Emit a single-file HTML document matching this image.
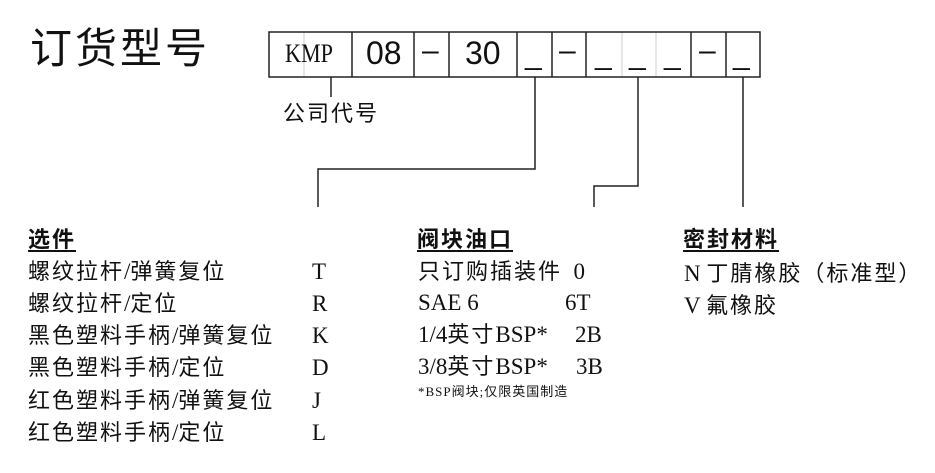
<!DOCTYPE html>
<html><head><meta charset="utf-8"><style>
body{margin:0;width:935px;height:473px;background:#fff;position:relative;overflow:hidden;font-family:"Liberation Serif","Noto Sans CJK SC",serif;color:#111}
.t{position:absolute;white-space:pre;line-height:1}
.c{font-size:22px;letter-spacing:2px}
.l{letter-spacing:0;font-size:23px}
.h{font-weight:bold;text-decoration:underline;text-decoration-thickness:2px;text-underline-offset:3px;font-family:"Liberation Sans","Noto Sans CJK SC",sans-serif}
.s{font-family:"Liberation Sans","Noto Sans CJK SC",sans-serif}
</style></head><body>
<svg width="935" height="473" style="position:absolute;left:0;top:0">
<g stroke="#cfcfcf" stroke-width="1"><line x1="304" y1="32" x2="304" y2="77"/><line x1="622" y1="32" x2="622" y2="77"/><line x1="656" y1="32" x2="656" y2="77"/></g>
<g fill="none" stroke="#222" stroke-width="1.5">
<rect x="269" y="32" width="491" height="45"/>
<line x1="352" y1="32" x2="352" y2="77"/><line x1="414" y1="32" x2="414" y2="77"/><line x1="449" y1="32" x2="449" y2="77"/><line x1="517" y1="32" x2="517" y2="77"/><line x1="552" y1="32" x2="552" y2="77"/><line x1="586" y1="32" x2="586" y2="77"/><line x1="691" y1="32" x2="691" y2="77"/><line x1="726" y1="32" x2="726" y2="77"/>
<line x1="331" y1="77" x2="331" y2="97"/>
<polyline points="535,77 535,169 318,169 318,207"/>
<polyline points="638,77 638,186 594,186 594,207"/>
<line x1="743" y1="77" x2="743" y2="207"/>
</g></svg>
<div class="t s" style="left:30px;top:28px;font-size:42px;letter-spacing:3px">订货型号</div>
<div class="t" style="left:285px;top:41px;font-size:26px;transform:scaleX(0.85);transform-origin:left">KMP</div>
<div class="t s" style="left:366px;top:37px;font-size:32px">08</div>
<div class="t s" style="left:422px;top:36px;font-size:30px">–</div>
<div class="t s" style="left:465px;top:37px;font-size:32px">30</div>
<div class="t s" style="left:525px;top:40px;font-size:30px">_</div>
<div class="t s" style="left:559px;top:36px;font-size:30px">–</div>
<div class="t s" style="left:595px;top:40px;font-size:30px">_</div>
<div class="t s" style="left:629px;top:40px;font-size:30px">_</div>
<div class="t s" style="left:664px;top:40px;font-size:30px">_</div>
<div class="t s" style="left:699px;top:36px;font-size:30px">–</div>
<div class="t s" style="left:733px;top:40px;font-size:30px">_</div>
<div class="t s" style="left:283px;top:103px;font-size:22px;letter-spacing:2px">公司代号</div>

<div class="t c h" style="left:28px;top:229px">选件</div>
<div class="t c" style="left:28px;top:260px">螺纹拉杆<span class="l">/</span>弹簧复位</div><div class="t c l" style="left:312px;top:260px">T</div>
<div class="t c" style="left:28px;top:292px">螺纹拉杆<span class="l">/</span>定位</div><div class="t c l" style="left:312px;top:292px">R</div>
<div class="t c" style="left:28px;top:324px">黑色塑料手柄<span class="l">/</span>弹簧复位</div><div class="t c l" style="left:312px;top:324px">K</div>
<div class="t c" style="left:28px;top:356px">黑色塑料手柄<span class="l">/</span>定位</div><div class="t c l" style="left:312px;top:356px">D</div>
<div class="t c" style="left:28px;top:389px">红色塑料手柄<span class="l">/</span>弹簧复位</div><div class="t c l" style="left:312px;top:389px">J</div>
<div class="t c" style="left:28px;top:421px">红色塑料手柄<span class="l">/</span>定位</div><div class="t c l" style="left:312px;top:421px">L</div>

<div class="t c h" style="left:417px;top:229px">阀块油口</div>
<div class="t c" style="left:418px;top:260px">只订购插装件<span class="l">  0</span></div>
<div class="t c l" style="left:418px;top:291px">SAE 6</div><div class="t c l" style="left:565px;top:291px">6T</div>
<div class="t c" style="left:418px;top:323px"><span class="l">1/4</span>英寸<span class="l">BSP*</span></div><div class="t c l" style="left:575px;top:323px">2B</div>
<div class="t c" style="left:418px;top:355px"><span class="l">3/8</span>英寸<span class="l">BSP*</span></div><div class="t c l" style="left:576px;top:355px">3B</div>
<div class="t" style="left:418px;top:385px;font-size:13px;letter-spacing:1px">*BSP阀块;仅限英国制造</div>

<div class="t c h" style="left:683px;top:229px">密封材料</div>
<div class="t c" style="left:684px;top:262px"><span class="l">N </span>丁腈橡胶（标准型）</div>
<div class="t c" style="left:684px;top:294px"><span class="l">V </span>氟橡胶</div>
</body></html>
